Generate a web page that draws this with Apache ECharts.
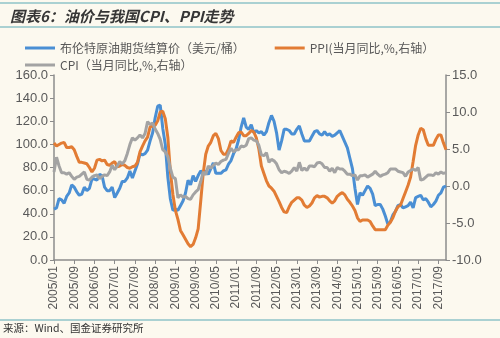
<!DOCTYPE html>
<html>
<head>
<meta charset="utf-8">
<script src="https://cdn.jsdelivr.net/npm/echarts@6/dist/echarts.min.js"></script>
<style>
html,body{margin:0;padding:0;background:#fcf9ef;}
#c{width:500px;height:338px;}
</style>
</head>
<body>
<div id="c"></div>
<script>
// Monthly categories 2005/01 .. 2017/12
const categories = [];
for (let y = 2005; y <= 2017; y++) {
  for (let m = 1; m <= 12; m++) categories.push(y + '/' + (m < 10 ? '0' + m : m));
}

const brent = [
  44, 45, 53, 52, 49, 55, 58, 65, 63, 59, 56, 57,
  63, 60, 62, 70, 70, 69, 74, 73, 63, 60, 60, 63,
  54, 58, 62, 68, 68, 71, 77, 71, 77, 83, 92, 91,
  92, 95, 103, 110, 123, 133, 134, 114, 100, 72, 53, 43,
  44, 43, 47, 51, 58, 69, 65, 73, 68, 73, 77, 75,
  77, 74, 79, 84, 75, 75, 75, 77, 78, 83, 86, 92,
  96, 104, 115, 123, 115, 113, 117, 110, 112, 110, 111, 108,
  111, 119, 125, 120, 110, 95, 103, 113, 113, 112, 109, 109,
  113, 116, 109, 103, 103, 103, 107, 111, 112, 109, 108, 111,
  108, 109, 107, 108, 110, 112, 107, 102, 97, 88, 79, 62,
  48, 58, 56, 60, 64, 62, 57, 47, 48, 48, 44, 38,
  31, 33, 39, 42, 47, 48, 45, 46, 47, 50, 45, 54,
  55, 56, 52, 53, 50, 46, 48, 51, 56, 58, 63, 64
];

const ppi = [
  5.8, 5.4, 5.6, 5.8, 5.9, 5.2, 5.2, 5.3, 4.9, 4.0, 3.2, 3.2,
  3.1, 3.0, 2.5, 1.9, 2.4, 3.5, 3.6, 3.4, 3.5, 2.9, 2.8, 3.1,
  3.3, 2.6, 2.7, 2.9, 2.8, 2.5, 2.4, 2.6, 2.7, 3.2, 4.6, 5.4,
  6.1, 6.6, 8.0, 8.1, 8.2, 8.8, 10.0, 10.1, 9.1, 6.6, 2.0, -1.1,
  -3.3, -4.5, -6.0, -6.6, -7.2, -7.8, -8.2, -7.9, -7.0, -5.8, -2.1, 1.7,
  4.3, 5.4, 5.9, 6.8, 7.1, 6.4, 4.8, 4.3, 4.3, 5.0, 6.1, 5.9,
  6.6, 7.2, 7.3, 6.8, 6.8, 7.1, 7.5, 7.3, 6.5, 5.0, 2.7, 1.7,
  0.7, 0.0, -0.3, -0.7, -1.4, -2.1, -2.9, -3.5, -3.6, -2.8, -2.2, -1.9,
  -1.6, -1.6, -1.9, -2.6, -2.9, -2.7, -2.3, -1.6, -1.3, -1.5, -1.4, -1.4,
  -1.6, -2.0, -2.3, -2.0, -1.4, -1.1, -0.9, -1.2, -1.8, -2.2, -2.7, -3.3,
  -4.3, -4.8, -4.6, -4.6, -4.6, -4.8, -5.4, -5.9, -5.9, -5.9, -5.9, -5.9,
  -5.3, -4.9, -4.3, -3.4, -2.8, -2.6, -1.7, -0.8, 0.1, 1.2, 3.3, 5.5,
  6.9, 7.8, 7.6, 6.4, 5.5, 5.5, 5.5, 6.3, 6.9, 6.9, 5.8, 4.9
];

const cpi = [
  1.9, 3.9, 2.7, 1.8, 1.8, 1.6, 1.8, 1.3, 0.9, 1.2, 1.3, 1.6,
  1.9, 0.9, 0.8, 1.2, 1.4, 1.5, 1.0, 1.3, 1.5, 1.4, 1.9, 2.8,
  2.2, 2.7, 3.3, 3.0, 3.4, 4.4, 5.6, 6.5, 6.2, 6.5, 6.9, 6.5,
  7.1, 8.7, 8.3, 8.5, 7.7, 7.1, 6.3, 4.9, 4.6, 4.0, 2.4, 1.2,
  1.0, -1.6, -1.2, -1.5, -1.4, -1.7, -1.8, -1.2, -0.8, -0.5, 0.6, 1.9,
  1.5, 2.7, 2.4, 2.8, 3.1, 2.9, 3.3, 3.5, 3.6, 4.4, 5.1, 4.6,
  4.9, 4.9, 5.4, 5.3, 5.5, 6.4, 6.5, 6.2, 6.1, 5.5, 4.2, 4.1,
  4.5, 3.2, 3.6, 3.4, 3.0, 2.2, 1.8, 2.0, 1.9, 1.7, 2.0, 2.5,
  2.0, 3.2, 2.1, 2.4, 2.1, 2.7, 2.7, 2.6, 3.1, 3.2, 3.0, 2.5,
  2.5, 2.0, 2.4, 1.8, 2.5, 2.3, 2.3, 2.0, 1.6, 1.6, 1.4, 1.5,
  0.8, 1.4, 1.4, 1.5, 1.2, 1.4, 1.6, 2.0, 1.6, 1.3, 1.5, 1.6,
  1.8, 2.3, 2.3, 2.3, 2.0, 1.9, 1.8, 1.3, 1.9, 2.1, 2.3, 2.1,
  2.5, 0.8, 0.9, 1.2, 1.5, 1.5, 1.4, 1.8, 1.6, 1.9, 1.7, 1.8
];

const leftTicks = { min: 0, max: 160, interval: 20 };
const rightTicks = { min: -10, max: 15, interval: 5 };

const names = ['布伦特原油期货结算价（美元/桶）', 'PPI(当月同比,%,右轴）', 'CPI（当月同比,%,右轴）'];
const colors = ['#4a8fd4', '#e27c34', '#a3a3a3'];

const chart = echarts.init(document.getElementById('c'), null, { renderer: 'canvas' });
const font = '"Noto Sans CJK SC", "Liberation Sans", sans-serif';
const axisColor = '#8c8c8c';
const textColor = '#595959';

chart.setOption({
  backgroundColor: '#fcf9ef',
  animation: false,
  textStyle: { fontFamily: font },
  title: {
    text: '图表6：油价与我国CPI、PPI走势',
    left: 5, top: 4,
    textStyle: { fontSize: 15, fontWeight: 'bold', fontStyle: 'italic', color: '#363636', fontFamily: font }
  },
  graphic: [
    { type: 'line', shape: { x1: 0, y1: 3, x2: 500, y2: 3 }, style: { stroke: '#8fc3c9', lineWidth: 1.5 } },
    { type: 'line', shape: { x1: 0, y1: 27, x2: 500, y2: 27 }, style: { stroke: '#8fc3c9', lineWidth: 1.5 } },
    { type: 'line', shape: { x1: 0, y1: 320, x2: 500, y2: 320 }, style: { stroke: '#8fc3c9', lineWidth: 1.5 } },
    { type: 'text', left: 3, top: 323, style: { text: '来源：Wind、国金证券研究所', font: '10.5px ' + font, fill: '#333' } }
  ],
  legend: [
    {
      data: [names[0], names[1]], left: 20, top: 37, itemGap: 30,
      itemWidth: 30, itemHeight: 3, icon: 'rect',
      textStyle: { fontSize: 12, color: textColor, fontFamily: font }
    },
    {
      data: [names[2]], left: 20, top: 54,
      itemWidth: 30, itemHeight: 3, icon: 'rect',
      textStyle: { fontSize: 12, color: textColor, fontFamily: font }
    }
  ],
  grid: { left: 54, right: 54, top: 75, bottom: 78 },
  xAxis: {
    type: 'category',
    data: categories,
    boundaryGap: false,
    axisLine: { lineStyle: { color: axisColor, width: 1.5 } },
    axisTick: { show: true, interval: 7, length: 4, lineStyle: { color: axisColor } },
    axisLabel: { interval: 7, rotate: 90, fontSize: 12, color: textColor, margin: 6, fontFamily: '"Liberation Sans", Arial, sans-serif' },
    splitLine: { show: false }
  },
  yAxis: [
    {
      type: 'value', min: leftTicks.min, max: leftTicks.max, interval: leftTicks.interval,
      axisLine: { show: true, lineStyle: { color: axisColor, width: 1.5 } },
      axisTick: { show: true, length: 4, lineStyle: { color: axisColor } },
      axisLabel: { formatter: v => v.toFixed(1), fontSize: 13, color: textColor, margin: 6, fontFamily: '"Liberation Sans", Arial, sans-serif' },
      splitLine: { show: false }
    },
    {
      type: 'value', min: rightTicks.min, max: rightTicks.max, interval: rightTicks.interval,
      position: 'right',
      axisLine: { show: true, lineStyle: { color: axisColor, width: 1.5 } },
      axisTick: { show: true, length: 4, lineStyle: { color: axisColor } },
      axisLabel: { formatter: v => v.toFixed(1), fontSize: 13, color: textColor, margin: 6, fontFamily: '"Liberation Sans", Arial, sans-serif' },
      splitLine: { show: false }
    }
  ],
  series: [
    { name: names[0], type: 'line', data: brent, yAxisIndex: 0, showSymbol: false, symbol: 'none',
      lineStyle: { color: colors[0], width: 3 }, itemStyle: { color: colors[0] } },
    { name: names[1], type: 'line', data: ppi, yAxisIndex: 1, showSymbol: false, symbol: 'none',
      lineStyle: { color: colors[1], width: 3 }, itemStyle: { color: colors[1] } },
    { name: names[2], type: 'line', data: cpi, yAxisIndex: 1, showSymbol: false, symbol: 'none',
      lineStyle: { color: colors[2], width: 3 }, itemStyle: { color: colors[2] } }
  ]
});
</script>
</body>
</html>
